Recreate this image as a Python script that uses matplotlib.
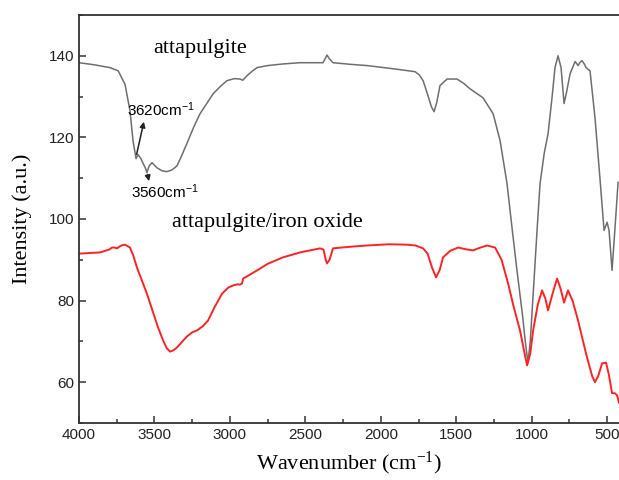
import numpy as np
import matplotlib.pyplot as plt
from matplotlib.ticker import MultipleLocator

# Espectro FTIR de la atapulgita (curva gris)
onda_atp = [4000, 3900, 3795, 3740, 3695, 3662, 3642, 3622, 3609, 3590, 3575, 3560,
            3550, 3535, 3516, 3485, 3450, 3418, 3385, 3351, 3320, 3285, 3240, 3198,
            3150, 3111, 3060, 3020, 2970, 2933, 2915, 2887, 2850, 2820, 2750, 2648,
            2535, 2403, 2383, 2370, 2357, 2340, 2317, 2200, 2092, 1980, 1873, 1773,
            1745, 1720, 1690, 1665, 1647, 1630, 1608, 1561, 1495, 1450, 1409, 1323,
            1256, 1210, 1164, 1131, 1100, 1060, 1040, 1025, 1010, 985, 965, 945,
            918, 892, 865, 846, 826, 806, 786, 770, 746, 713, 693, 680, 667, 652,
            640, 614, 581, 547, 521, 501, 488, 468, 450, 428]
int_atp = [138.3, 137.8, 137.1, 136.3, 133.0, 126.5, 119.2, 114.8, 115.8, 114.8, 113.6, 112.5,
           111.4, 113.0, 113.8, 112.6, 111.8, 111.6, 112.0, 113.0, 115.5, 118.5, 122.5, 125.8,
           128.5, 130.7, 132.6, 133.9, 134.4, 134.3, 134.0, 135.1, 136.3, 137.1, 137.6, 138.0,
           138.3, 138.3, 138.3, 139.2, 140.2, 139.2, 138.3, 137.9, 137.6, 137.1, 136.6, 136.1,
           135.3, 133.9, 130.5, 127.5, 126.3, 128.5, 132.7, 134.3, 134.3, 133.2, 131.9, 129.7,
           125.8, 119.2, 108.7, 97.9, 88.0, 76.0, 69.0, 64.8, 70.0, 85.0, 97.2, 108.7,
           116.0, 120.9, 130.0, 137.1, 140.0, 137.1, 128.3, 131.0, 135.6, 138.6, 137.6, 138.4,
           138.8, 138.0, 137.1, 136.3, 124.8, 109.4, 97.2, 99.2, 97.2, 87.4, 97.0, 109.0]

# Espectro de atapulgita/óxido de hierro (curva roja)
onda_fe = [4000, 3861, 3800, 3781, 3765, 3748, 3720, 3695, 3662, 3640, 3616, 3550,
           3476, 3440, 3418, 3397, 3375, 3351, 3285, 3250, 3218, 3180, 3145, 3100,
           3052, 3010, 2979, 2950, 2933, 2920, 2912, 2870, 2820, 2750, 2648, 2535,
           2403, 2380, 2365, 2357, 2340, 2317, 2200, 2092, 1950, 1827, 1770, 1720,
           1690, 1660, 1634, 1610, 1588, 1540, 1488, 1440, 1389, 1340, 1296, 1243,
           1200, 1157, 1120, 1078, 1050, 1031, 1010, 991, 960, 932, 910, 892,
           860, 832, 810, 786, 760, 730, 693, 660, 634, 600, 581, 560,
           534, 508, 490, 468, 450, 435, 422]
int_fe = [91.5, 91.8, 92.5, 93.0, 93.0, 92.8, 93.5, 93.7, 93.0, 91.0, 88.1, 81.7,
          73.4, 70.0, 68.3, 67.5, 67.8, 68.5, 71.2, 72.2, 72.7, 73.7, 75.1, 78.5,
          81.7, 83.2, 83.7, 84.0, 83.9, 84.2, 85.4, 86.3, 87.4, 89.0, 90.6, 91.8,
          92.8, 92.5, 90.0, 89.1, 90.0, 92.8, 93.2, 93.5, 93.8, 93.7, 93.5, 92.8,
          91.5, 88.0, 85.7, 87.5, 90.6, 92.2, 93.0, 92.6, 92.3, 93.0, 93.5, 93.0,
          90.0, 84.2, 78.5, 72.7, 67.5, 64.1, 67.0, 72.7, 79.0, 82.5, 80.5, 77.6,
          82.0, 85.4, 83.0, 79.5, 82.5, 80.0, 75.1, 70.0, 66.1, 61.5, 60.0, 61.5,
          64.6, 64.8, 62.0, 57.3, 57.3, 56.8, 55.0]

fig = plt.figure(figsize=(6.19, 4.80), dpi=100)
ax = fig.add_axes([0.1276, 0.1188, 0.8724, 0.85])

ax.plot(onda_atp, int_atp, color="#6e6e6e", linewidth=1.1)
ax.plot(onda_fe, int_fe, color="#ff2222", linewidth=1.4)

ax.set_xlim(4000, 422)
ax.set_ylim(50, 150)
ax.xaxis.set_major_locator(MultipleLocator(500))
ax.xaxis.set_minor_locator(MultipleLocator(250))
ax.yaxis.set_major_locator(MultipleLocator(20))
ax.yaxis.set_minor_locator(MultipleLocator(10))
ax.tick_params(which="both", direction="in", colors="#333333", width=1.1)
ax.tick_params(which="major", length=5, labelsize=11, labelcolor="#222222")
ax.tick_params(which="minor", length=3)
for lbl in ax.get_xticklabels() + ax.get_yticklabels():
    lbl.set_family("Liberation Sans")
for lado in ["left", "bottom", "top"]:
    ax.spines[lado].set_linewidth(1.3)
    ax.spines[lado].set_color("#333333")
ax.spines["right"].set_visible(False)

serif = "Liberation Serif"
sup = r"$\mathregular{^{-1}}$"
ax.set_xlabel("Wavenumber (cm" + sup + ")", fontsize=16, family=serif, labelpad=6)
ax.set_ylabel("Intensity (a.u.)", fontsize=16, family=serif, labelpad=12)

ax.text(3198, 141.7, "attapulgite", fontsize=16, family=serif, ha="center", va="center")
ax.text(2754, 99.1, "attapulgite/iron oxide", fontsize=16, family=serif,
        ha="center", va="center")

# Anotaciones de las bandas OH
ax.annotate("", xy=(3566, 124.5), xytext=(3622, 115.2),
            arrowprops=dict(arrowstyle="-|>", color="#222222", lw=1.1, mutation_scale=8))
ax.text(3682, 126.8, "3620cm" + sup, fontsize=11, family="Liberation Sans",
        ha="left", va="center")
ax.annotate("", xy=(3532, 108.6), xytext=(3550, 111.6),
            arrowprops=dict(arrowstyle="-|>", color="#222222", lw=1.1, mutation_scale=8))
ax.text(3655, 106.6, "3560cm" + sup, fontsize=11, family="Liberation Sans",
        ha="left", va="center")

fig.savefig("out.png", dpi=100)
